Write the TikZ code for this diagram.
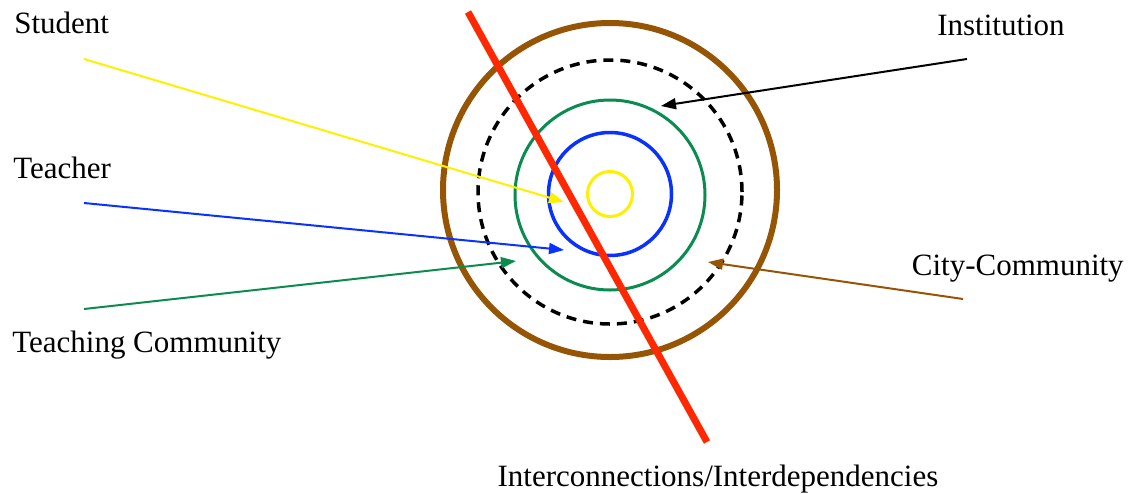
\documentclass[tikz,border=0pt]{standalone}
\usepackage{fontspec}
\setmainfont{Liberation Serif}
\usetikzlibrary{arrows.meta, positioning}

\definecolor{ringyellow}{RGB}{255,240,0}
\definecolor{ringblue}{RGB}{10,50,255}
\definecolor{ringgreen}{RGB}{10,140,80}
\definecolor{ringbrown}{RGB}{150,85,5}
\definecolor{cutred}{RGB}{255,40,0}

\begin{document}
\begin{tikzpicture}[x=1pt, y=-1pt, >={Triangle[length=15pt,width=11pt]}, semithick,
    ring/.style={circle, draw, inner sep=0pt, line width=3pt},
    lbl/.style={anchor=base west, inner sep=0pt, font=\fontsize{31}{36}\selectfont},
    feed/.style={->, line width=2pt}]
  \useasboundingbox (0,0) rectangle (1131,493);

  % rings
  \node[ring, draw=ringbrown, line width=6pt, minimum size=334pt] (city) at (610,190) {};
  \node[ring, draw=black, line width=3.5pt, dash pattern=on 10pt off 7pt, minimum size=264pt] (inst) at (610,192) {};
  \node[ring, draw=ringgreen, minimum size=190pt] (tcom) at (610,195) {};
  \node[ring, draw=ringblue, line width=3.5pt, minimum size=123pt] (teach) at (610,194) {};
  \node[ring, draw=ringyellow, minimum size=45pt] (stud) at (610,194) {};

  % labels
  \node[lbl] (studlbl) at (14,33) {Student};
  \node[lbl] (teachlbl) at (13,178) {Teacher};
  \node[lbl] (tcomlbl) at (12,352) {Teaching Community};
  \node[lbl, anchor=base east] (instlbl) at (1065,35) {Institution};
  \node[lbl, anchor=base east] (citylbl) at (1124,275) {City-Community};
  \node[lbl, anchor=base] (cutlbl) at (718,486) {Interconnections/Interdependencies};

  % cutting line
  \coordinate (cuttop) at (468,12);
  \coordinate (cutbot) at (707,442);
  \draw[cutred, line width=7pt] (cuttop) -- (cutbot);

  % arrow ends
  \coordinate (studfrom) at (84,59);
  \coordinate (studto) at (564,202);
  \coordinate (teachfrom) at (84,203);
  \coordinate (teachto) at (564,250);
  \coordinate (tcomfrom) at (84,309);
  \coordinate (tcomto) at (516,261);
  \coordinate (instfrom) at (967,59);
  \coordinate (instto) at (661,106);
  \coordinate (cityfrom) at (963,299);
  \coordinate (cityto) at (708,262);

  \path (studfrom) edge[feed, ringyellow] (studto)
    (teachfrom) edge[feed, ringblue] (teachto)
    (tcomfrom) edge[feed, ringgreen] (tcomto)
    (instfrom) edge[feed, black] (instto)
    (cityfrom) edge[feed, ringbrown] (cityto);
\end{tikzpicture}
\end{document}
